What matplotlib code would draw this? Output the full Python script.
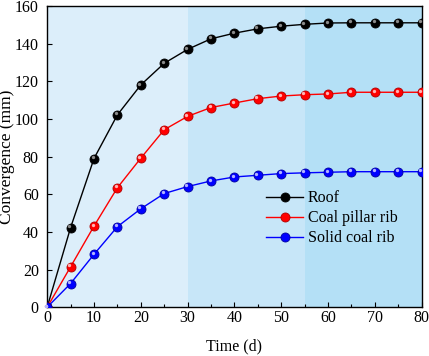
import matplotlib
matplotlib.use("Agg")
import matplotlib.pyplot as plt
import matplotlib.transforms as mtransforms
import numpy as np

time_d = [0, 5, 10, 15, 20, 25, 30, 35, 40, 45, 50, 55, 60, 65, 70, 75, 80]
roof = [0, 42.3, 79.0, 102.2, 118.1, 129.6, 137.0, 142.6, 145.6, 147.9, 149.3, 150.3, 151.0, 151.1, 151.1, 151.1, 151.1]
pillar_rib = [0, 21.5, 43.1, 63.5, 79.2, 94.3, 101.4, 106.1, 108.5, 110.8, 112.2, 112.9, 113.3, 114.2, 114.2, 114.2, 114.2]
solid_rib = [0, 12.6, 28.1, 42.8, 52.3, 60.4, 64.1, 67.1, 69.2, 70.1, 71.0, 71.4, 71.7, 72.0, 72.0, 72.0, 72.0]

stage_edges = [0, 30, 55, 80]
stage_colors = ["#dceefa", "#c7e6f8", "#b4e0f6"]

series = [
    ("Roof", roof, "black", "#000000", "#8a8a8a"),
    ("Coal pillar rib", pillar_rib, "red", "#b00000", "#ffb4b4"),
    ("Solid coal rib", solid_rib, "blue", "#0000a0", "#b4b4ff"),
]

plt.rcParams["font.family"] = ["Liberation Serif", "DejaVu Serif"]

fig = plt.figure(figsize=(4.29, 3.56), dpi=100)
ax = fig.add_axes([0.110, 0.137, 0.873, 0.846])

for x0, x1, c in zip(stage_edges[:-1], stage_edges[1:], stage_colors):
    ax.axvspan(x0, x1, color=c, lw=0, zorder=0)

# highlight offset up-left to mimic the shaded sphere markers
hl_trans = mtransforms.offset_copy(ax.transData, fig=fig, x=-1.0, y=1.0, units="points")

handles = []
for label, vals, color, edge, hl in series:
    h, = ax.plot(time_d, vals, color=color, lw=1.0, marker="o", markersize=6.5,
                 markerfacecolor=color, markeredgecolor=edge, markeredgewidth=0.6,
                 label=label, zorder=3)
    ax.plot(time_d, vals, ls="none", marker="o", markersize=2.4, color=hl,
            markeredgewidth=0, zorder=4, transform=hl_trans, clip_on=False)
    handles.append(h)

ax.set_xlim(0, 80)
ax.set_ylim(0, 160)
ax.set_xticks(np.arange(0, 81, 10))
ax.set_yticks(np.arange(0, 161, 20))
ax.set_xticks(np.arange(0, 81, 5), minor=True)
ax.tick_params(which="both", direction="in", labelsize=11.5, top=False, right=False)
ax.tick_params(which="major", length=3.5, width=0.8)
ax.tick_params(which="minor", length=2, width=0.8)
ax.tick_params(axis="x", pad=2)
ax.tick_params(axis="y", pad=6)
for s in ax.spines.values():
    s.set_linewidth(1.0)

ax.set_xlabel("Time (d)", fontsize=11.5, labelpad=9)
ax.set_ylabel("Convergence (mm)", fontsize=12.5)
ax.yaxis.set_label_coords(-0.086, 0.5)

ax.legend(handles=handles, loc="center left", bbox_to_anchor=(0.555, 0.295),
          frameon=False, fontsize=11.5, handlelength=2.3, handletextpad=0.3,
          labelspacing=0.25, borderpad=0.2)

fig.savefig("out.png", dpi=100)
